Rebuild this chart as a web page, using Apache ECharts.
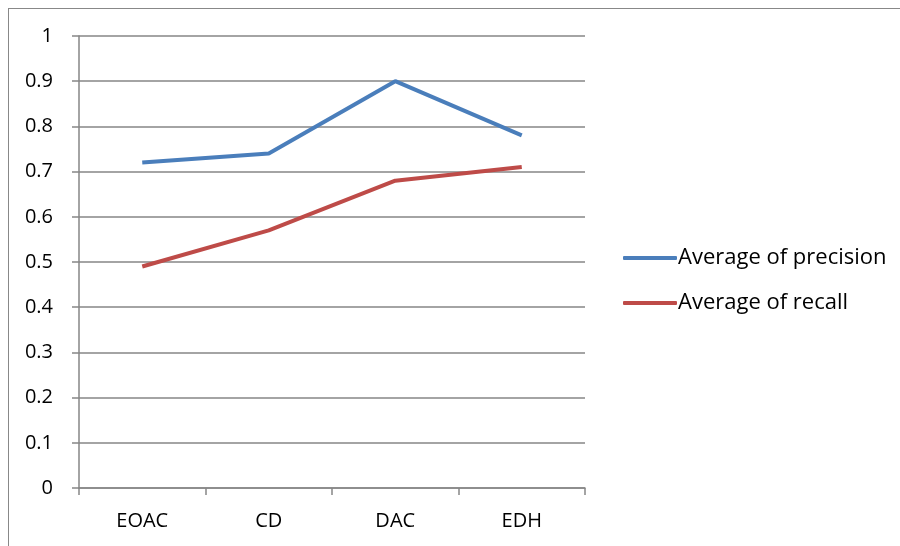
<!DOCTYPE html>
<html>
<head>
<meta charset="utf-8">
<script src="https://cdn.jsdelivr.net/npm/echarts@6/dist/echarts.min.js"></script>
<style>
  html, body { margin: 0; padding: 0; background: #fff; }
  #frame { position: absolute; left: 8px; top: 8px; width: 900px; height: 546px;
           border-top: 1px solid #888; border-left: 1px solid #888; }
  #chart { position: absolute; left: 0; top: 0; width: 900px; height: 546px; }
</style>
</head>
<body>
<div id="frame"></div>
<div id="chart"></div>
<script>
const categories = ['EOAC', 'CD', 'DAC', 'EDH'];
const precision = [0.72, 0.74, 0.90, 0.78];
const recall = [0.49, 0.57, 0.68, 0.71];
const seriesNames = ['Average of precision', 'Average of recall'];

const chart = echarts.init(document.getElementById('chart'), null, { renderer: 'canvas' });
const font = 'Open Sans, Liberation Sans, sans-serif';
const gridColor = '#868686';

chart.setOption({
  animation: false,
  grid: { left: 79, top: 36, width: 506, height: 452, containLabel: false },
  legend: {
    orient: 'vertical',
    left: 618,
    top: 240,
    itemWidth: 54,
    itemHeight: 4,
    itemGap: 19,
    icon: 'roundRect',
    textStyle: { fontFamily: font, fontSize: 22, color: '#000', padding: [0, 0, 0, -4], lineHeight: 26 },
    data: seriesNames
  },
  xAxis: {
    type: 'category',
    data: categories,
    boundaryGap: true,
    axisLine: { lineStyle: { color: gridColor, width: 1.5 } },
    axisTick: { show: true, length: 7, lineStyle: { color: gridColor, width: 1.5 } },
    axisLabel: { fontFamily: font, fontSize: 20, color: '#000', margin: 23 }
  },
  yAxis: {
    type: 'value',
    min: 0, max: 1, interval: 0.1,
    axisLine: { show: true, lineStyle: { color: gridColor, width: 1.5 } },
    axisTick: { show: true, inside: false, length: 7, lineStyle: { color: gridColor, width: 1.5 } },
    splitLine: { show: true, lineStyle: { color: gridColor, width: 1.5 } },
    axisLabel: {
      fontFamily: font, fontSize: 20, color: '#000', margin: 26,
      formatter: v => String(Math.round(v * 10) / 10)
    }
  },
  series: [
    {
      name: seriesNames[0], type: 'line', data: precision,
      symbol: 'none', lineStyle: { color: '#4a7ebb', width: 4 },
      itemStyle: { color: '#4a7ebb' }
    },
    {
      name: seriesNames[1], type: 'line', data: recall,
      symbol: 'none', lineStyle: { color: '#be4b48', width: 4 },
      itemStyle: { color: '#be4b48' }
    }
  ]
});
</script>
</body>
</html>
